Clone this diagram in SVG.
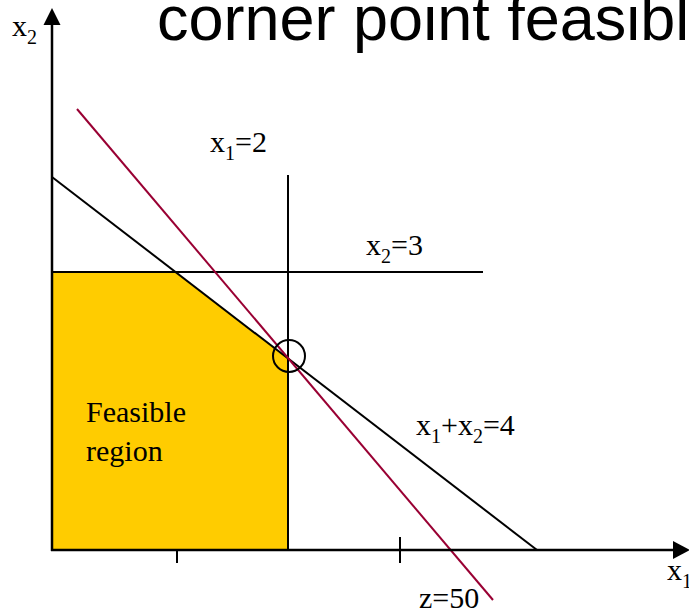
<svg xmlns="http://www.w3.org/2000/svg" width="689" height="613" viewBox="0 0 689 613">
<rect width="689" height="613" fill="#fff"/>
<g id="region">
<polygon points="52,272 175.5,272 288,358.5 288,550 52,550" fill="#FFCC00"/>
</g>
<g id="connectors" fill="none" stroke="#000" stroke-width="2">
<line x1="288" y1="175" x2="288" y2="550"/>
<line x1="52" y1="272" x2="483" y2="272"/>
<line x1="52" y1="177" x2="537" y2="550"/>
<line x1="77" y1="109" x2="493" y2="600" stroke="#990033"/>
<line x1="177" y1="550" x2="177" y2="563"/>
<line x1="400" y1="537" x2="400" y2="563"/>
<line x1="52" y1="551" x2="52" y2="22" stroke-width="2.5"/>
<polygon points="52,8 43.5,25 60.5,25" fill="#000" stroke="none"/>
<line x1="51" y1="550" x2="675" y2="550" stroke-width="2.5"/>
<polygon points="690,550 673,541 673,559" fill="#000" stroke="none"/>
<circle cx="289" cy="356" r="16"/>
</g>
<g id="labels">
<text x="86" y="422" font-family="Liberation Serif" font-size="30">Feasible</text>
<text x="86" y="461" font-family="Liberation Serif" font-size="30">region</text>
<text x="419" y="608" font-family="Liberation Serif" font-size="30">z=50</text>
<text x="12" y="36" font-family="Liberation Serif" font-size="30">x<tspan font-size="20" dy="8">2</tspan></text>
<text x="210" y="152" font-family="Liberation Serif" font-size="30">x<tspan font-size="20" dy="8">1</tspan><tspan dy="-8">=2</tspan></text>
<text x="366" y="255" font-family="Liberation Serif" font-size="30">x<tspan font-size="20" dy="8">2</tspan><tspan dy="-8">=3</tspan></text>
<text x="416" y="435" font-family="Liberation Serif" font-size="30">x<tspan font-size="20" dy="8">1</tspan><tspan dy="-8">+x</tspan><tspan font-size="20" dy="8">2</tspan><tspan dy="-8">=4</tspan></text>
<text x="667" y="580" font-family="Liberation Serif" font-size="30">x<tspan font-size="20" dy="8">1</tspan></text>
</g>
<g id="title">
<text x="157" y="40" font-family="Liberation Sans" font-size="63">corner point feasibl</text>
</g>
</svg>
